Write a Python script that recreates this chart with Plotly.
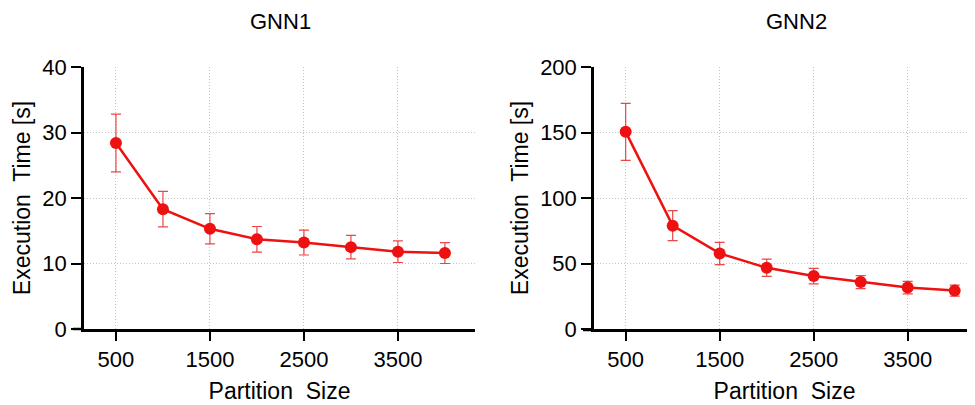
import plotly.graph_objects as go

partition_size = [500, 1000, 1500, 2000, 2500, 3000, 3500, 4000]
gnn1_time = [28.4, 18.3, 15.3, 13.7, 13.2, 12.5, 11.8, 11.6]
gnn1_err = [4.4, 2.7, 2.3, 1.95, 1.9, 1.8, 1.65, 1.6]
gnn2_time = [150.5, 78.9, 57.7, 46.7, 40.4, 35.8, 31.6, 29.3]
gnn2_err = [21.8, 11.5, 8.5, 6.6, 5.9, 5.0, 4.8, 4.2]
x_ticks = [500, 1500, 2500, 3500]
titles = ["GNN1", "GNN2"]

W, H, OFF = 975, 405, 8  # page body margin shifts the figure by 8px


def fx(px):
    return (px - OFF) / W


def fy(py):
    return 1 - (py - OFF) / H


RED = "#ee1111"
ERR = "rgba(230,40,40,0.85)"
BASE = "Liberation Sans, Arial, sans-serif"

fig = go.Figure()

series = [(gnn1_time, gnn1_err, "x", "y"), (gnn2_time, gnn2_err, "x2", "y2")]
for ys, es, xa, ya in series:
    fig.add_trace(go.Scatter(
        x=partition_size, y=ys, xaxis=xa, yaxis=ya, mode="lines+markers",
        line=dict(color=RED, width=2.5),
        marker=dict(color=RED, size=12),
        error_y=dict(type="data", array=es, visible=True, color=ERR,
                     thickness=1.2, width=5),
        showlegend=False,
    ))

ydom = [fy(329), fy(67)]
common_x = dict(
    tickmode="array", tickvals=x_ticks, ticks="outside", ticklen=9, tickwidth=2,
    tickcolor="black", showline=True, linecolor="black", linewidth=2.5,
    showgrid=True, gridcolor="#c4c4c4", griddash="1px,2px", gridwidth=1,
    zeroline=False, tickfont=dict(family=BASE, size=22, color="black"),
    title=dict(text="Partition  Size", font=dict(family=BASE, size=23, color="black"),
               standoff=12),
    automargin=False,
)
common_y = dict(
    ticks="outside", ticklen=10, tickwidth=2, tickcolor="black",
    showline=True, linecolor="black", linewidth=2.5,
    showgrid=True, gridcolor="#c4c4c4", griddash="1px,2px", gridwidth=1,
    zeroline=False, tickfont=dict(family=BASE, size=22, color="black"),
    title=dict(text="Execution  Time [s]", font=dict(family=BASE, size=23, color="black"),
               standoff=6),
    automargin=False,
)

fig.update_layout(
    width=W, height=H,
    margin=dict(l=0, r=0, t=0, b=0),
    paper_bgcolor="white", plot_bgcolor="white",
    xaxis=dict(domain=[fx(84), fx(475)], range=[160, 4320], anchor="y", **common_x),
    yaxis=dict(domain=ydom, range=[0, 40], dtick=10, anchor="x", **common_y),
    xaxis2=dict(domain=[fx(594), fx(975)], range=[163, 4216], anchor="y2", **common_x),
    yaxis2=dict(domain=ydom, range=[0, 200], dtick=50, anchor="x2", **common_y),
    annotations=[
        dict(text=titles[0], x=fx(280), y=fy(22), xref="paper", yref="paper",
             xanchor="center", yanchor="middle", showarrow=False,
             font=dict(family=BASE, size=22, color="black")),
        dict(text=titles[1], x=fx(796), y=fy(22), xref="paper", yref="paper",
             xanchor="center", yanchor="middle", showarrow=False,
             font=dict(family=BASE, size=22, color="black")),
    ],
    shapes=[
        dict(type="line", xref="paper", yref="paper", x0=fx(73), x1=fx(84),
             y0=fy(329), y1=fy(329), line=dict(color="black", width=2.5)),
        dict(type="line", xref="paper", yref="paper", x0=fx(583), x1=fx(594),
             y0=fy(330), y1=fy(330), line=dict(color="black", width=2.5)),
    ],
)

fig.write_html("out.html")
